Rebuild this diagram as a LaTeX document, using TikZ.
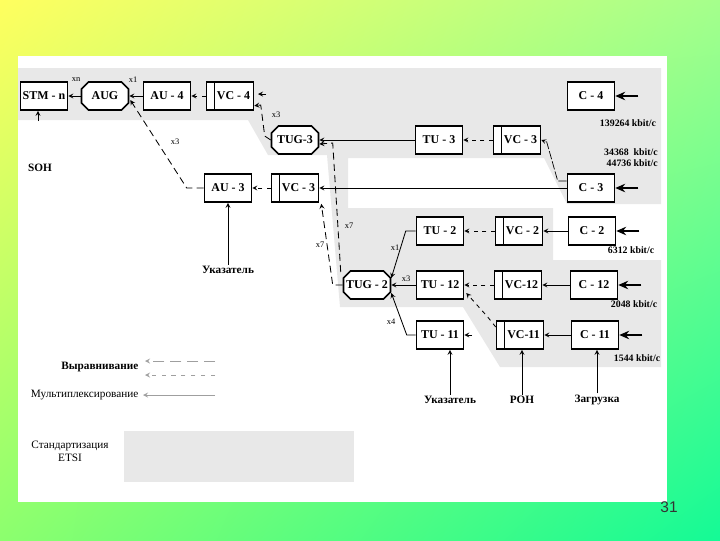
\documentclass[tikz,border=0pt]{standalone}
\usepackage{fontspec}
\setmainfont{Liberation Serif}
\newfontfamily\numfont{Liberation Sans}
\usetikzlibrary{calc,arrows.meta,shadings}

\definecolor{bgul}{RGB}{255,255,95}
\definecolor{bgur}{RGB}{165,255,140}
\definecolor{bgll}{RGB}{140,255,110}
\definecolor{bglr}{RGB}{20,250,150}
\definecolor{bandgray}{RGB}{232,232,232}

\tikzset{
  blk/.style={draw, line width=1.1pt, fill=white, minimum width=1.175cm,
    minimum height=0.7cm, inner sep=1pt, font=\fontsize{8.5}{9}\selectfont\bfseries},
  vcblk/.style={blk, execute at begin node=\hspace*{5pt},
    path picture={\draw[line width=0.8pt]
      ([xshift=0.19cm]path picture bounding box.north west) --
      ([xshift=0.19cm]path picture bounding box.south west);}},
  grptxt/.style={minimum width=1.175cm, minimum height=0.7cm, inner sep=1pt,
    font=\fontsize{8.5}{9}\selectfont\bfseries},
  octo/.style={line width=1.1pt, fill=white},
  txt/.style={font=\fontsize{8}{9}\selectfont\bfseries, inner sep=1pt},
  lgt/.style={font=\fontsize{8}{9}\selectfont, inner sep=1pt},
  rate/.style={font=\fontsize{7}{8}\selectfont\bfseries, inner sep=1pt, align=right},
  mlt/.style={font=\fontsize{6}{7}\selectfont, inner sep=0pt},
  mux/.style={line width=0.6pt},
  mxd/.style={line width=0.6pt, dash pattern=on 5pt off 3pt},
  ptr/.style={line width=0.6pt, dash pattern=on 3pt off 3pt},
  mapd/.style={line width=0.5pt, dash pattern=on 6pt off 1.5pt},
  fat/.style={line width=2pt, -{Stealth[length=7pt,width=6pt]}},
  leg/.style={line width=0.6pt, gray!75}
}

% Gruppenblock mit abgeschraegten Ecken: Name, Mitte, Text
\newcommand\octnode[3]{%
  \draw[octo] #2 ++(-23.5,-7) -- ++(0,14) -- ++(7,7) -- ++(33,0) -- ++(7,-7)
    -- ++(0,-14) -- ++(-7,-7) -- ++(-33,0) -- cycle
    node[grptxt] (#1) at #2 {#3};}

\begin{document}
\begin{tikzpicture}[x=0.025cm, y=-0.025cm, >=stealth]
        % Hintergrund und Blatt
        \shade[upper left=bgul, upper right=bgur, lower left=bgll, lower right=bglr]
            (0,0) rectangle (720,540);
        \useasboundingbox (0,0) rectangle (720,540);
        \fill[white] (18,56) rectangle (667,502);
        \fill[bandgray] (18,68) -- (661,68) -- (661,204) -- (567,204) -- (544,158)
            -- (348,158) -- (348,208) -- (553,208) -- (553,260) -- (661,260)
            -- (661,367) -- (500,367) -- (463,307) -- (340,307) -- (327,155)
            -- (268,155) -- (248,120) -- (18,120) -- cycle;
        \fill[bandgray] (124,431) rectangle (354,482);

        % Bloecke
        \node[blk] (stm) at (44,96) {STM - n};
        \octnode{aug}{(105,96)}{AUG}
        \node[blk] (au4) at (167,96) {AU - 4};
        \node[vcblk] (vc4) at (230,96) {VC - 4};
        \node[blk] (c4) at (591,96) {C - 4};
        \octnode{tug3}{(295,140)}{TUG-3}
        \node[blk] (tu3) at (439,140) {TU - 3};
        \node[vcblk] (vc3a) at (517,140) {VC - 3};
        \node[blk] (c3) at (591,188) {C - 3};
        \node[blk] (au3) at (228,188) {AU - 3};
        \node[vcblk] (vc3b) at (295,188) {VC - 3};
        \node[blk] (tu2) at (440,231) {TU - 2};
        \node[vcblk] (vc2) at (519,231) {VC - 2};
        \node[blk] (c2) at (592,231) {C - 2};
        \octnode{tug2}{(367,285)}{TUG - 2}
        \node[blk] (tu12) at (440,285) {TU - 12};
        \node[vcblk] (vc12) at (518,285) {VC-12};
        \node[blk] (c12) at (594,285) {C - 12};
        \node[blk] (tu11) at (440,335) {TU - 11};
        \node[vcblk] (vc11) at (520,335) {VC-11};
        \node[blk] (c11) at (595,335) {C - 11};

        % Texte
        \node[txt] (soh) at (40,168) {SOH};
        \node[txt] (ptra) at (228,270) {Указатель};
        \node[txt] (ptrb) at (450,400) {Указатель};
        \node[txt] (poh) at (522,400) {POH};
        \node[txt] (load) at (597,400) {Загрузка};
        \node[rate] (r4) at (628,123) {139264 kbit/c};
        \node[rate] (r3) at (631,158) {34368 \ kbit/c\\44736 kbit/c};
        \node[rate] (r2) at (631,250) {6312 kbit/c};
        \node[rate] (r12) at (634,304) {2048 kbit/c};
        \node[rate] (r11) at (637,358) {1544 kbit/c};
        \node[mlt] (kn) at (76,80) {xn};
        \node[mlt] (k1a) at (133,80) {x1};
        \node[mlt] (k3a) at (276,115) {x3};
        \node[mlt] (k3b) at (175,142) {x3};
        \node[mlt] (k7a) at (349,226) {x7};
        \node[mlt] (k7b) at (320,245) {x7};
        \node[mlt] (k1b) at (395,248) {x1};
        \node[mlt] (k3c) at (406,279) {x3};
        \node[mlt] (k4) at (391,322) {x4};

        % Multiplexen
        \draw[mux,->] (aug) -- (stm);
        \draw[mux,->] (au4) -- (aug);
        \draw[mux,->] (tu3) -- (tug3);
        \draw[mux,->] (tu12) -- (tug2);
        \draw[mux,->] (tu2.west) -- ++(-10,0) -- ($(tug2.east)+(0,-7)$);
        \draw[mux,->] (tu11.west) -- ++(-9,0) -- ($(tug2.east)+(0,8)$);
        \draw[mxd,->] (tug3.west) -- ++(-6,-4) -- ++(-4,-31) -- ($(vc4.south east)+(0,-5)$);
        \draw[mxd,->] (au3.west) -- ++(-17,0) -- ($(aug.east)+(1,4)$);
        \draw[mxd,->] ($(tug2.west)+(-2,-13)$) -- ++(-8,-129) -- ($(tug3.east)+(0,4)$);
        \draw[mxd,->] (tug2.west) -- ++(-10,0) -- ($(vc3b.south east)+(2,1)$);

        % Zeiger
        \draw[ptr,->] (vc4) -- (au4);
        \draw[ptr,->] (vc3a) -- (tu3);
        \draw[ptr,->] (vc3b) -- (au3);
        \draw[ptr,->] (vc2) -- (tu2);
        \draw[ptr,->] (vc12) -- (tu12);
        \draw[ptr,->] ($(vc11.west)+(0,-8)$) -- ++(-8,-10) -- ($(tu12.east)+(2,8)$);

        % Abbildung
        \draw[mux,->] (c3) -- (vc3b);
        \draw[mux,->] (c2) -- (vc2);
        \draw[mux,->] (c12) -- (vc12);
        \draw[mux,->] (c11) -- (vc11);
        \draw[mapd,->] ($(c3.west)+(0,-7)$) -- ++(-9,0) -- ++(-11,-39) -- (vc3a.east);
        \coordinate (c4map) at (266,94);
        \draw[mux,->] (c4map) -- ++(-8,0);
        \coordinate (tu11map) at (472,335);
        \draw[mux,->] (tu11map) -- (tu11.east);
        \coordinate (sohmap) at (38,121);
        \draw[mux,->] (sohmap) -- (sohmap |- stm.south);
        \foreach \c in {c4,c3,c2,c12,c11}
        {
            \coordinate (in\c) at ($(\c.east)+(23,0)$);
            \draw[fat] (in\c) -- (\c.east);
        }
        \draw[mux,->] (ptra) -- (au3);
        \draw[mux,->] (ptrb) -- (ptrb |- tu11.south);
        \draw[mux,->] (poh) -- (poh |- vc11.south);
        \draw[mux,->] (load) -- (load |- c11.south);

        % Legende
        \node[txt, anchor=east] (lalign) at (140,367) {Выравнивание};
        \node[lgt, anchor=east] (lmux) at (140,395) {Мультиплексирование};
        \draw[leg, dash pattern=on 8pt off 4pt, ->] ($(lalign.east)+(75,-6)$) -- ++(-70,0);
        \draw[leg, dash pattern=on 3pt off 4pt, ->] ($(lalign.east)+(75,8)$) -- ++(-70,0);
        \draw[leg, ->] ($(lmux.east)+(75,0)$) -- ++(-72,0);
        \node[lgt, align=center] (std) at (70,451) {Стандартизация\\ETSI};
        \node[font=\numfont\fontsize{11}{12}\selectfont, text=black!80, inner sep=0pt]
            (pgnum) at (669,507) {31};
    \end{tikzpicture}
\end{document}
